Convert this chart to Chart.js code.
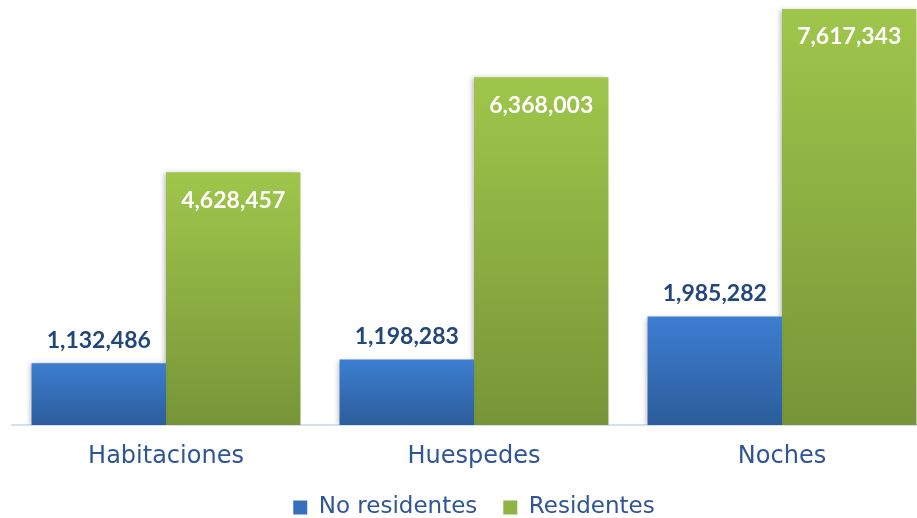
<!DOCTYPE html>
<html lang="es">
<head>
    <meta charset="UTF-8">
    <title>Habitaciones, Huespedes y Noches</title>
    <script src="https://cdn.jsdelivr.net/npm/chart.js"></script>
    <style>
        html, body {
            margin: 0;
            padding: 0;
            background: #ffffff;
            overflow: hidden;
        }
        .wrap {
            width: 940px;
            height: 518px;
        }
    </style>
</head>
<body>
    <div class="wrap">
        <canvas id="barChart" width="940" height="518"></canvas>
    </div>

    <script>
        // data
        const categories = ['Habitaciones', 'Huespedes', 'Noches'];
        const seriesNames = ['No residentes', 'Residentes'];
        const noResidentes = [1132486, 1198283, 1985282];
        const residentes = [4628457, 6368003, 7617343];

        // vertical gradient per bar: lighter on top, darker at the base
        function barGradient(top, bottom) {
            return (ctx) => {
                const chart = ctx.chart;
                if (!chart.chartArea || ctx.raw === undefined) return bottom;
                const y = chart.scales.y;
                const y0 = y.getPixelForValue(ctx.raw);
                const y1 = y.getPixelForValue(0);
                const g = chart.ctx.createLinearGradient(0, y0, 0, y1);
                g.addColorStop(0, top);
                g.addColorStop(1, bottom);
                return g;
            };
        }

        // soft shadow under the bars + value labels
        const barExtras = {
            id: 'barExtras',
            beforeDatasetsDraw(chart) {
                const c = chart.ctx;
                c.save();
                c.shadowColor = 'rgba(0, 0, 0, 0.28)';
                c.shadowBlur = 5;
                c.shadowOffsetX = -2;
                c.shadowOffsetY = 1;
            },
            afterDatasetsDraw(chart) {
                const c = chart.ctx;
                c.restore();
                c.save();
                c.font = 'bold 23px Lato, "Liberation Sans", sans-serif';
                c.textAlign = 'center';
                c.textBaseline = 'middle';
                chart.data.datasets.forEach((ds, i) => {
                    const meta = chart.getDatasetMeta(i);
                    meta.data.forEach((bar, j) => {
                        const text = ds.data[j].toLocaleString('en-US');
                        if (i === 0) {
                            c.fillStyle = '#22477a';
                            c.fillText(text, bar.x, bar.y - 23);
                        } else {
                            c.fillStyle = '#ffffff';
                            c.fillText(text, bar.x, bar.y + 28);
                        }
                    });
                });
                c.restore();
            }
        };

        const legendFill = ['#3670bd', '#8db445'];

        new Chart(document.getElementById('barChart'), {
            type: 'bar',
            data: {
                labels: categories,
                datasets: [
                    {
                        label: seriesNames[0],
                        data: noResidentes,
                        backgroundColor: barGradient('#3c7ed1', '#2c5d9b'),
                        borderWidth: 0,
                        categoryPercentage: 0.873,
                        barPercentage: 1
                    },
                    {
                        label: seriesNames[1],
                        data: residentes,
                        backgroundColor: barGradient('#9fc64b', '#779538'),
                        borderWidth: 0,
                        categoryPercentage: 0.873,
                        barPercentage: 1
                    }
                ]
            },
            options: {
                responsive: false,
                animation: false,
                devicePixelRatio: 1,
                layout: {
                    padding: { left: 12, right: 4, top: 0, bottom: -11 }
                },
                scales: {
                    x: {
                        grid: { display: false, drawTicks: false },
                        border: { display: true, color: '#d3e0f0', width: 2 },
                        ticks: {
                            color: '#2f5597',
                            padding: 17,
                            font: { family: '"DejaVu Sans", sans-serif', size: 24 }
                        },
                        afterFit(scale) {
                            scale.height = 45;
                        }
                    },
                    y: {
                        display: false,
                        beginAtZero: true,
                        min: 0,
                        max: 7782000
                    }
                },
                plugins: {
                    tooltip: { enabled: false },
                    legend: {
                        position: 'bottom',
                        labels: {
                            color: '#2f5597',
                            boxWidth: 14,
                            boxHeight: 14,
                            padding: 26,
                            font: { family: '"DejaVu Sans", sans-serif', size: 23 },
                            generateLabels(chart) {
                                const items = Chart.defaults.plugins.legend.labels.generateLabels(chart);
                                items.forEach((it, i) => {
                                    it.fillStyle = legendFill[i];
                                    it.strokeStyle = legendFill[i];
                                    it.lineWidth = 0;
                                });
                                return items;
                            }
                        }
                    }
                }
            },
            plugins: [barExtras]
        });
    </script>
</body>
</html>
